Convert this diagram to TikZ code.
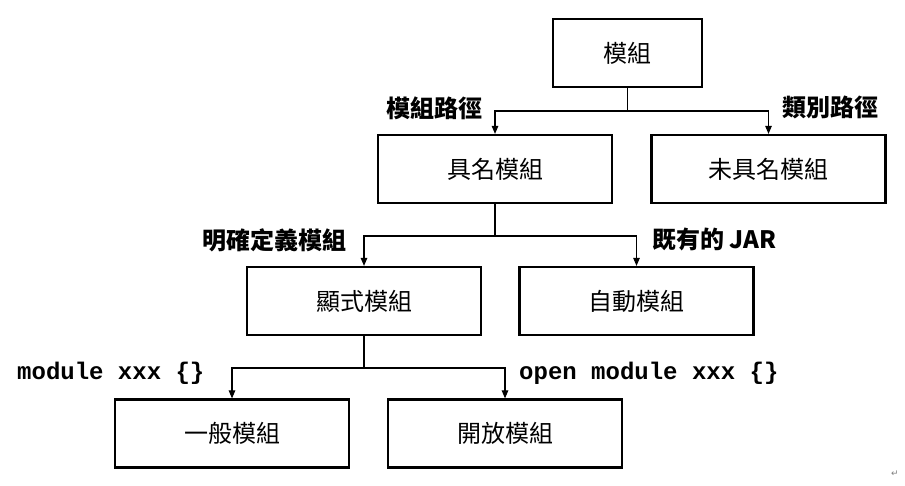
\documentclass[tikz,border=0pt]{standalone}
\usepackage{fontspec}
\newfontfamily\cjk{Noto Sans CJK TC}
\newfontfamily\codefont{Liberation Mono}
\newfontfamily\symfont{DejaVu Sans}
\usetikzlibrary{arrows.meta}
\begin{document}
\begin{tikzpicture}[x=1pt,y=-1pt,
  box/.style={draw, line width=2.2pt, minimum height=68pt, inner sep=0pt,
              font=\cjk\fontsize{24}{28}\selectfont},
  wbox/.style={box, minimum width=234pt},
  lab/.style={font=\cjk\bfseries\fontsize{24}{28}\selectfont, inner sep=0pt},
  code/.style={font=\codefont\bfseries\fontsize{24}{28}\selectfont, inner sep=0pt},
  conn/.style={line width=1.1pt},
  arr/.style={conn, -{Triangle[length=8pt,width=6.5pt]}}]
\useasboundingbox[fill=white] (0,0) rectangle (905,486);

\node[box, minimum width=149pt] (mod) at (627.5,53) {模組};
\node[wbox] (named)    at (495,169)   {具名模組};
\node[wbox] (unnamed)  at (768.5,169) {未具名模組};
\node[wbox] (explicit) at (364,301)   {顯式模組};
\node[wbox] (auto)     at (636.5,301) {自動模組};
\node[wbox] (normal)   at (232,433.5) {一般模組};
\node[wbox] (open)     at (505,433.5) {開放模組};

\coordinate (j1) at (627.5,111);
\coordinate (j2) at (495,236);
\coordinate (j3) at (364,368);

\draw[conn] (mod.south) -- (j1);
\draw[arr] (j1) -| (named.north);
\draw[arr] (j1) -| (unnamed.north);
\draw[conn] (named.south) -- (j2);
\draw[arr] (j2) -| (explicit.north);
\draw[arr] (j2) -| (auto.north);
\draw[conn] (explicit.south) -- (j3);
\draw[arr] (j3) -| (normal.north);
\draw[arr] (j3) -| (open.north);

\node[lab] (l1) at (434,108) {模組路徑};
\node[lab] (l2) at (830,107) {類別路徑};
\node[lab] (l3) at (274.5,240) {明確定義模組};
\node[lab, anchor=west] (l4) at (652,239) {既有的 JAR};
\node[code, anchor=west] (l5) at (17,373) {module xxx \{\}};
\node[code, anchor=west] (l6) at (519,373) {open module xxx \{\}};

\node[font=\symfont\fontsize{9}{10}\selectfont, text=gray, inner sep=0pt] (pm) at (895,474) {↵};
\end{tikzpicture}
\end{document}
